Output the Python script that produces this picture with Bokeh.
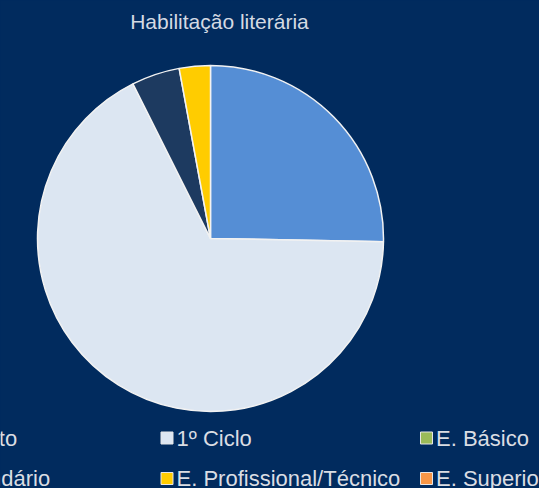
import math
from bokeh.plotting import figure
from bokeh.models import Range1d, ColumnDataSource
from bokeh.core.properties import value
from bokeh.embed import file_html
from bokeh.resources import INLINE

title_text = "Habilitação literária"
categories = ["Analfabeto", "1º Ciclo", "E. Básico", "E. Secundário",
              "E. Profissional/Técnico", "E. Superior"]
values = [25.3, 67.3, 0.0, 4.5, 2.9, 0.0]
colors = ["#558ED5", "#DCE6F2", "#9BBB59", "#1D3A60", "#FFCC00", "#F79646"]

BG = "#012B5E"
W, H = 539, 488
FONT = value("Liberation Sans")

p = figure(width=W, height=H, output_backend="svg", toolbar_location=None,
           x_range=Range1d(0, W), y_range=Range1d(0, H),
           min_border=0, outline_line_color=None)
p.axis.visible = False
p.grid.visible = False
p.background_fill_color = BG
p.border_fill_color = BG

def py(y):  # page y -> data y
    return H - y

# pie
cx, cy, r = 210, py(238), 173
total = sum(values)
starts, ends = [], []
cum = 0.0
for v in values:
    starts.append(math.pi / 2 - 2 * math.pi * cum / total)
    cum += v
    ends.append(math.pi / 2 - 2 * math.pi * cum / total)
keep = [i for i, v in enumerate(values) if v > 0]
src = ColumnDataSource(dict(
    start=[starts[i] for i in keep], end=[ends[i] for i in keep],
    color=[colors[i] for i in keep]))
p.wedge(x=cx, y=cy, radius=r, start_angle="start", end_angle="end",
        direction="clock", fill_color="color", line_color="#F2F2F2",
        line_width=1.5, source=src)

# title
p.text(x=[219], y=[py(21)], text=[title_text], text_font=FONT,
       text_font_size="21px", text_color="#D4DAE3", text_align="center",
       text_baseline="middle")

# legend
col_x = [-98, 166.5, 426]
sq_x, sq_y, lab_x, lab_y = [], [], [], []
for i, c in enumerate(categories):
    col, row = i % 3, i // 3
    x0 = col_x[col]
    y0 = 437.5 + row * 40.5
    sq_x.append(x0)
    sq_y.append(py(y0))
    lab_x.append(x0 + 9.5)
    lab_y.append(py(y0))
p.rect(x=sq_x, y=sq_y, width=12, height=12, fill_color=colors,
       line_color="#E6E6E6", line_width=1)
p.text(x=lab_x, y=lab_y, text=categories, text_font=FONT,
       text_font_size="22px", text_color="#DADDE3", text_align="left",
       text_baseline="middle")

html = file_html(p, INLINE)
html = html.replace("<head>", "<head><style>body{background:%s;}</style>" % BG, 1)
open("out.html", "w").write(html)
